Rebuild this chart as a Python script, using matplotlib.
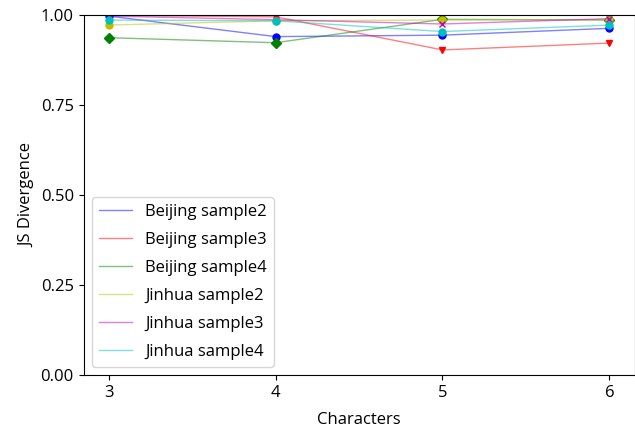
import matplotlib
matplotlib.use("Agg")
import matplotlib.pyplot as plt

plt.rcParams['font.family'] = ['Open Sans', 'DejaVu Sans']
plt.rcParams['font.size'] = 12

chars = [3, 4, 5, 6]
labels = ["Beijing sample2", "Beijing sample3", "Beijing sample4",
          "Jinhua sample2", "Jinhua sample3", "Jinhua sample4"]
beijing2 = [0.997, 0.940, 0.944, 0.963]
beijing3 = [0.999, 0.995, 0.903, 0.922]
beijing4 = [0.937, 0.923, 0.988, 0.986]
jinhua2 = [0.972, 0.984, 0.986, 0.987]
jinhua3 = [0.997, 0.987, 0.975, 0.990]
jinhua4 = [0.986, 0.984, 0.954, 0.972]

series = [beijing2, beijing3, beijing4, jinhua2, jinhua3, jinhua4]
colors = ['b', 'r', 'g', 'y', 'm', 'c']
markers = ['o', 'v', 'D', 'o', 'x', 'o']

fig = plt.figure(figsize=(6.35, 4.32), dpi=100)
ax = fig.add_axes([83.5/635, 57/432, 551/635, 360/432])

for vals, c, m, lab in zip(series, colors, markers, labels):
    ax.plot(chars, vals, color=c, alpha=0.5, linewidth=1, label=lab)
    ax.plot(chars, vals, linestyle='none', marker=m, color=c, markersize=5)

ax.set_xlim(2.85, 6.15)
ax.set_ylim(0, 1)
ax.set_xticks(chars)
ax.set_yticks([0, 0.25, 0.5, 0.75, 1.0])
ax.set_xlabel("Characters", labelpad=8)
ax.set_ylabel("JS Divergence")
ax.legend(loc='lower left', labelspacing=0.72)

fig.savefig("out.png", dpi=100)
